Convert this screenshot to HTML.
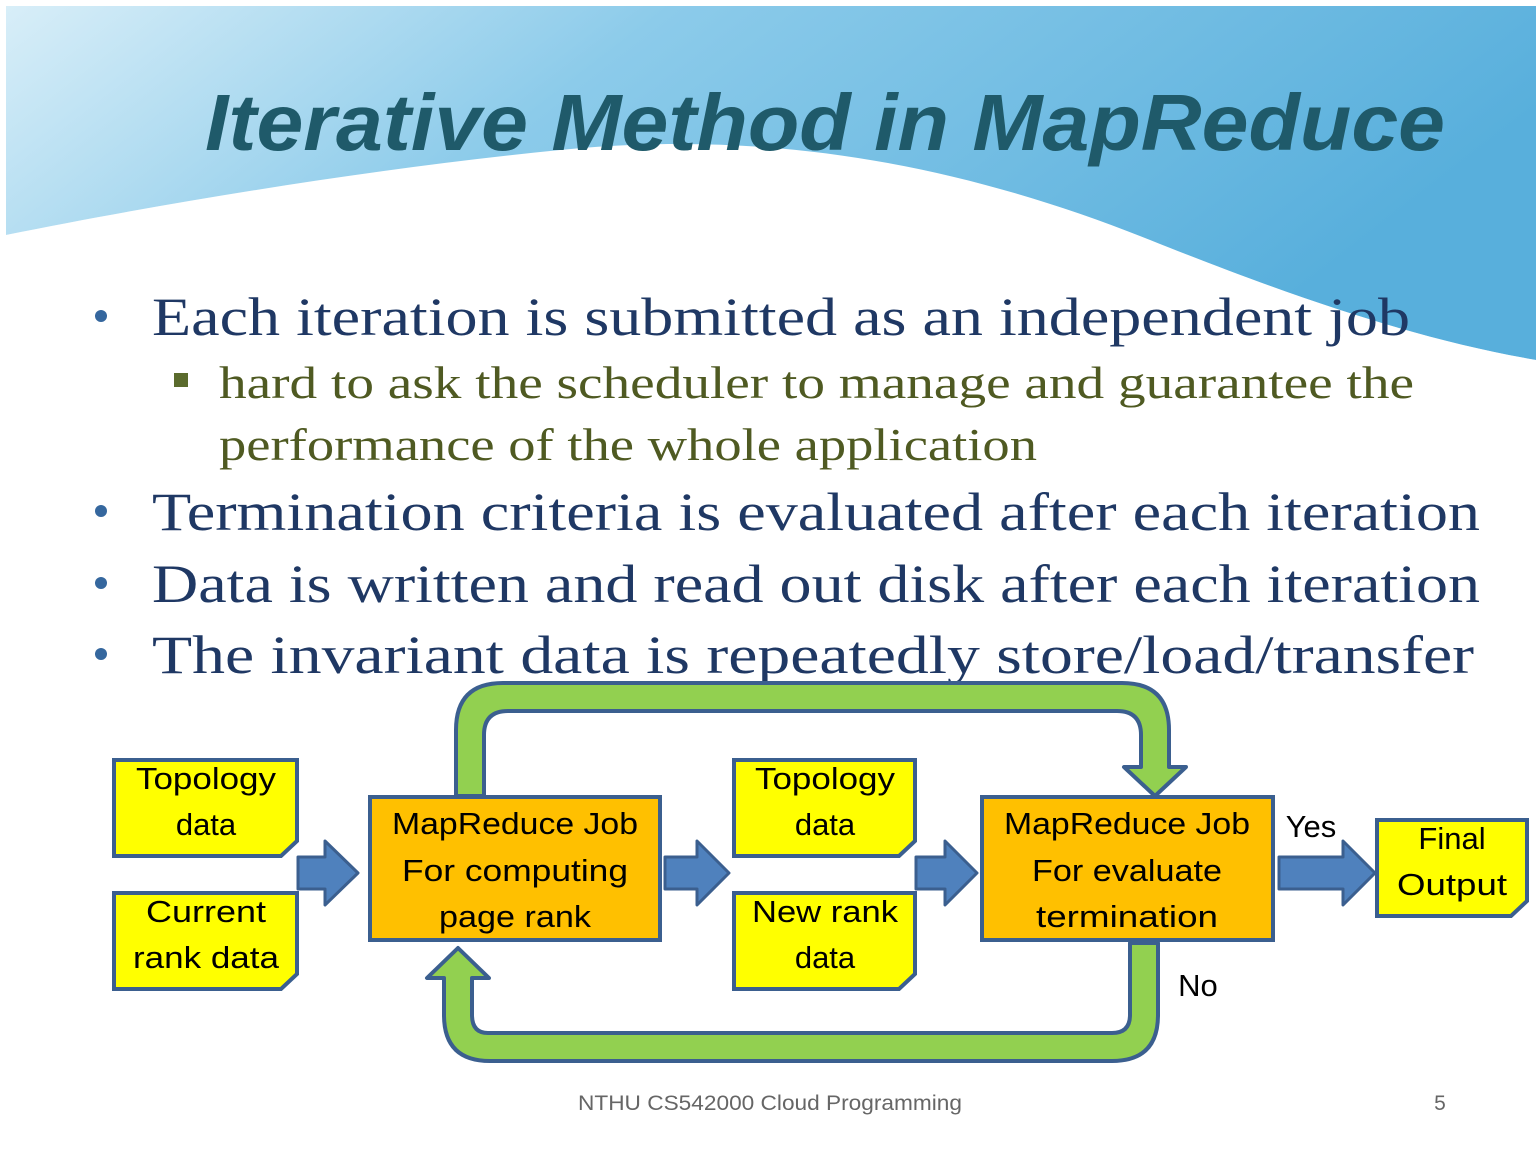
<!DOCTYPE html>
<html><head><meta charset="utf-8"><style>body{margin:0;background:#fff}svg{display:block}</style></head><body>
<svg width="1540" height="1155" viewBox="0 0 1540 1155" xmlns="http://www.w3.org/2000/svg">
<defs>
<linearGradient id="bg" x1="0" y1="0" x2="1" y2="0.3">
<stop offset="0" stop-color="#d8eef8"/><stop offset="0.4" stop-color="#8ccbea"/><stop offset="1" stop-color="#58afdc"/></linearGradient>
<linearGradient id="wave" x1="0" y1="0" x2="0" y2="1">
<stop offset="0" stop-color="#ffffff" stop-opacity="0"/><stop offset="0.5" stop-color="#ffffff" stop-opacity="0.9"/><stop offset="1" stop-color="#ffffff"/></linearGradient>
</defs>
<rect x="6" y="6" width="1530" height="1143" fill="#fff"/>
<path d="M6 6 H1536 V360 C1420 340 1300 300 1150 240 C950 160 760 130 560 150 C380 168 180 200 6 235 Z" fill="url(#bg)"/>
<path d="M6 235 C180 200 380 168 560 150 C760 130 950 160 1150 240 C1300 300 1420 340 1536 360 V380 C1420 365 1300 330 1150 275 C950 200 760 175 560 190 C380 205 180 240 6 280 Z" fill="url(#wave)" opacity="0.6"/>
<text x="205" y="150" font-family="Liberation Sans, sans-serif" font-style="italic" font-weight="bold" font-size="80" fill="#1f5a6a" textLength="1240" lengthAdjust="spacingAndGlyphs">Iterative Method in MapReduce</text>
<g font-family="Liberation Serif, serif" fill="#1f3864">
<circle cx="101" cy="316" r="6" fill="#35679e"/>
<text x="152" y="335" font-size="54" textLength="1258" lengthAdjust="spacingAndGlyphs">Each iteration is submitted as an independent job</text>
<rect x="174" y="373" width="14" height="14" fill="#5b6b2d"/>
<text x="219" y="398" font-size="46" fill="#4f5a22" textLength="1195" lengthAdjust="spacingAndGlyphs">hard to ask the scheduler to manage and guarantee the</text>
<text x="219" y="460" font-size="46" fill="#4f5a22" textLength="818" lengthAdjust="spacingAndGlyphs">performance of the whole application</text>
<circle cx="101" cy="511" r="6" fill="#35679e"/>
<text x="152" y="530" font-size="54" textLength="1328" lengthAdjust="spacingAndGlyphs">Termination criteria is evaluated after each iteration</text>
<circle cx="101" cy="583" r="6" fill="#35679e"/>
<text x="152" y="602" font-size="54" textLength="1328" lengthAdjust="spacingAndGlyphs">Data is written and read out disk after each iteration</text>
<circle cx="101" cy="654" r="6" fill="#35679e"/>
<text x="152" y="673" font-size="54" textLength="1322" lengthAdjust="spacingAndGlyphs">The invariant data is repeatedly store/load/transfer</text>
</g>
<g fill="#92d050" stroke="#3b5f8f" stroke-width="4" stroke-linejoin="round">
<path d="M456 796 V730 Q456 683 503 683 H1122 Q1169 683 1169 730 V767 H1186 L1155 796 L1124 767 H1141 V735 Q1141 711 1117 711 H508 Q484 711 484 735 V796 Z"/>
<path d="M1130 943 V1015 Q1130 1033 1112 1033 H488 Q472 1033 472 1015 V978 H489 L458 948 L427 978 H444 V1015 Q444 1061 490 1061 H1112 Q1158 1061 1158 1015 V943 Z"/>
</g>
<g fill="#4f81bd" stroke="#3b5f8f" stroke-width="3" stroke-linejoin="round">
<path d="M298 857 H325 V841 L358 873 L325 905 V889 H298 Z"/>
<path d="M665 857 H697 V841 L729 873 L697 905 V889 H665 Z"/>
<path d="M916 857 H945 V841 L977 873 L945 905 V889 H916 Z"/>
<path d="M1279 857 H1343 V841 L1375 873 L1343 905 V889 H1279 Z"/>
</g>
<g stroke="#3b5f8f" stroke-width="4">
<path d="M114 760 H297 V841 L281 856 H114 Z" fill="#ffff00"/>
<path d="M114 893 H297 V974 L281 989 H114 Z" fill="#ffff00"/>
<path d="M734 760 H915 V841 L899 856 H734 Z" fill="#ffff00"/>
<path d="M734 893 H915 V974 L899 989 H734 Z" fill="#ffff00"/>
<path d="M1377 820 H1527 V901 L1511 916 H1377 Z" fill="#ffff00"/>
<rect x="370" y="797" width="290" height="143" fill="#ffc000"/>
<rect x="982" y="797" width="291" height="143" fill="#ffc000"/>
</g>
<g font-family="Liberation Sans, sans-serif" font-size="31" fill="#000" text-anchor="middle">
<text x="206" y="789" textLength="140" lengthAdjust="spacingAndGlyphs">Topology</text><text x="206" y="835">data</text>
<text x="206" y="922" textLength="120" lengthAdjust="spacingAndGlyphs">Current</text><text x="206" y="968" textLength="146" lengthAdjust="spacingAndGlyphs">rank data</text>
<text x="825" y="789" textLength="140" lengthAdjust="spacingAndGlyphs">Topology</text><text x="825" y="835">data</text>
<text x="825" y="922" textLength="146" lengthAdjust="spacingAndGlyphs">New rank</text><text x="825" y="968">data</text>
<text x="1452" y="849">Final</text><text x="1452" y="895" textLength="110" lengthAdjust="spacingAndGlyphs">Output</text>
<text x="515" y="834" textLength="246" lengthAdjust="spacingAndGlyphs">MapReduce Job</text>
<text x="515" y="881" textLength="226" lengthAdjust="spacingAndGlyphs">For computing</text>
<text x="515" y="927" textLength="152" lengthAdjust="spacingAndGlyphs">page rank</text>
<text x="1127" y="834" textLength="246" lengthAdjust="spacingAndGlyphs">MapReduce Job</text>
<text x="1127" y="881" textLength="190" lengthAdjust="spacingAndGlyphs">For evaluate</text>
<text x="1127" y="927" textLength="182" lengthAdjust="spacingAndGlyphs">termination</text>
<text x="1311" y="837">Yes</text>
<text x="1198" y="996">No</text>
</g>
<text x="770" y="1110" font-family="Liberation Sans, sans-serif" font-size="21" fill="#666" text-anchor="middle" textLength="384" lengthAdjust="spacingAndGlyphs">NTHU CS542000 Cloud Programming</text>
<text x="1440" y="1110" font-family="Liberation Sans, sans-serif" font-size="21" fill="#666" text-anchor="middle">5</text>
</svg>
</body></html>
